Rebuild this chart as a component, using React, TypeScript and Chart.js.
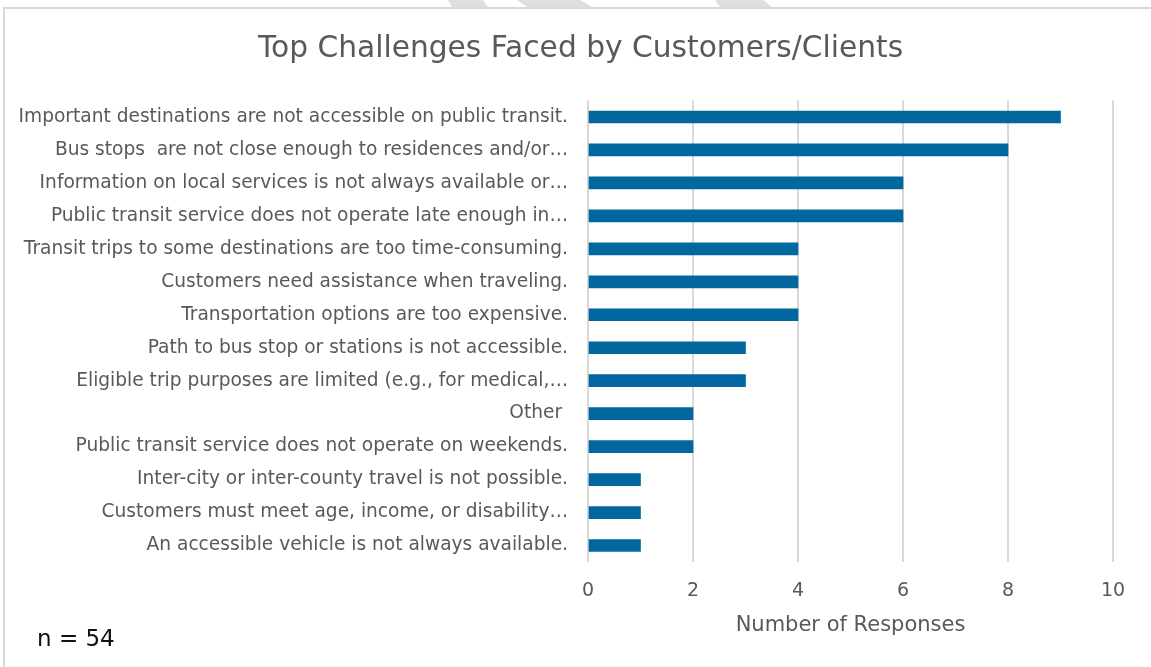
import React, { useEffect, useRef } from "react";
import { Chart, registerables } from "chart.js";

Chart.register(...registerables);

const chartTitle = "Top Challenges Faced by Customers/Clients";
const axisTitle = "Number of Responses";
const sampleNote = "n = 54";

const categories = [
  "Important destinations are not accessible on public transit.",
  "Bus stops  are not close enough to residences and/or…",
  "Information on local services is not always available or…",
  "Public transit service does not operate late enough in…",
  "Transit trips to some destinations are too time-consuming.",
  "Customers need assistance when traveling.",
  "Transportation options are too expensive.",
  "Path to bus stop or stations is not accessible.",
  "Eligible trip purposes are limited (e.g., for medical,…",
  "Other ",
  "Public transit service does not operate on weekends.",
  "Inter-city or inter-county travel is not possible.",
  "Customers must meet age, income, or disability…",
  "An accessible vehicle is not always available.",
];

const responses = [9, 8, 6, 6, 4, 4, 4, 3, 3, 2, 2, 1, 1, 1];

const xMin = 0;
const xMax = 10;
const xStep = 2;

const FONT = "'DejaVu Sans', sans-serif";
const GREY_TEXT = "#595959";
const GRID = "#d9d9d9";
const BAR = "#01679e";

const textPlugin = {
  id: "extraText",
  afterDraw(chart: any) {
    const ctx = chart.ctx;
    ctx.save();
    // chart title
    ctx.font = `29.7px ${FONT}`;
    ctx.fillStyle = GREY_TEXT;
    ctx.textAlign = "center";
    ctx.textBaseline = "middle";
    ctx.fillText(chartTitle, 580.5, 49);
    // sample size note
    ctx.font = `23px ${FONT}`;
    ctx.fillStyle = "#111111";
    ctx.textAlign = "left";
    ctx.fillText(sampleNote, 37, 640);
    ctx.restore();
  },
};

export default function App() {
  const canvasRef = useRef<HTMLCanvasElement | null>(null);

  useEffect(() => {
    if (!canvasRef.current) return;
    const chart = new Chart(canvasRef.current, {
      type: "bar",
      data: {
        labels: categories,
        datasets: [
          {
            data: responses,
            backgroundColor: BAR,
            borderWidth: 0,
            barThickness: 12,
          },
        ],
      },
      options: {
        indexAxis: "y",
        responsive: false,
        animation: false,
        maintainAspectRatio: false,
        layout: { padding: { left: 0, right: 38, top: 100.5, bottom: 0 } },
        plugins: {
          legend: { display: false },
          tooltip: { enabled: false },
          title: { display: false },
        },
        scales: {
          x: {
            min: xMin,
            max: xMax,
            ticks: {
              stepSize: xStep,
              color: GREY_TEXT,
              font: { family: FONT, size: 19 },
              padding: 18,
            },
            grid: { color: GRID, lineWidth: 2, drawTicks: false },
            border: { display: false },
            title: {
              display: true,
              text: axisTitle,
              color: GREY_TEXT,
              font: { family: FONT, size: 21 },
              padding: { top: 0, bottom: 29 },
            },
            afterFit(scale: any) {
              scale.height = 105;
            },
          },
          y: {
            ticks: {
              autoSkip: false,
              color: GREY_TEXT,
              font: { family: FONT, size: 18.6 },
              padding: 20,
            },
            grid: { display: false, drawTicks: false },
            border: { display: false },
            afterFit(scale: any) {
              scale.width = 588;
            },
          },
        },
      },
      plugins: [textPlugin],
    });
    return () => chart.destroy();
  }, []);

  const stripe = (pts: string) => ({
    position: "absolute" as const,
    left: 0,
    top: 0,
    width: 1151,
    height: 7,
    background: "#dedede",
    clipPath: `polygon(${pts})`,
  });

  return (
    <div style={{ position: "fixed", left: 0, top: 0, width: 1151, height: 667, background: "#fff", overflow: "hidden" }}>
      <div style={stripe("448px 0, 483px 0, 488px 7px, 452px 7px")} />
      <div style={stripe("517px 0, 580px 0, 592px 7px, 527px 7px")} />
      <div style={stripe("715px 0, 763px 0, 772px 7px, 720px 7px")} />
      <div
        style={{
          position: "absolute",
          left: 3,
          top: 7,
          width: 1200,
          height: 700,
          border: "2px solid #d9d9d9",
          boxSizing: "border-box",
        }}
      />
      <canvas ref={canvasRef} width={1151} height={667} style={{ position: "absolute", left: 0, top: 0 }} />
    </div>
  );
}
